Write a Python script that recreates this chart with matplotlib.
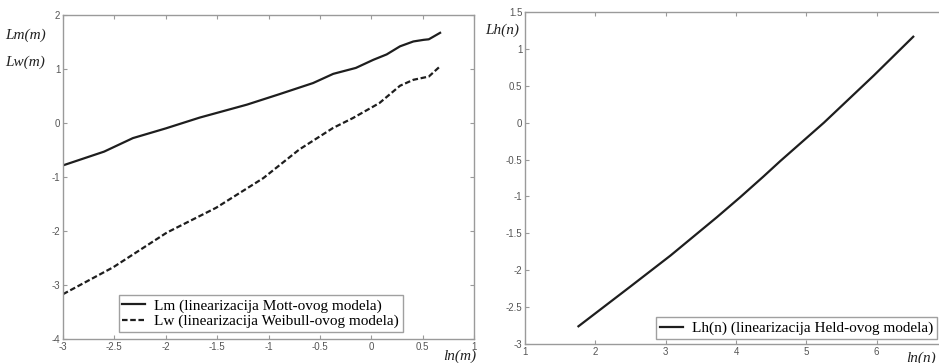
import matplotlib
matplotlib.use("Agg")
import matplotlib.pyplot as plt
import numpy as np

# Left panel data
lnm_m = [-3.0, -2.6, -2.32, -2.0, -1.67, -1.21, -0.9, -0.566, -0.37, -0.15, 0.02, 0.15, 0.28, 0.41, 0.51, 0.56, 0.67]
Lm = [-0.785, -0.53, -0.28, -0.1, 0.1, 0.34, 0.53, 0.74, 0.91, 1.02, 1.17, 1.27, 1.42, 1.51, 1.54, 1.55, 1.67]
lnm_w = [-3.0, -2.51, -1.99, -1.51, -1.05, -0.70, -0.37, -0.18, 0.08, 0.28, 0.41, 0.51, 0.56, 0.67]
Lw = [-3.17, -2.67, -2.03, -1.57, -1.02, -0.49, -0.09, 0.09, 0.37, 0.69, 0.80, 0.84, 0.86, 1.05]

# Right panel data
lnn = [1.76, 2.5, 3.07, 3.73, 4.06, 4.39, 4.63, 5.25, 5.96, 6.52]
Lh = [-2.76, -2.22, -1.80, -1.28, -1.01, -0.73, -0.52, 0.0, 0.64, 1.165]

left_xticks = [-3, -2.5, -2, -1.5, -1, -0.5, 0, 0.5, 1]
left_yticks = [-4, -3, -2, -1, 0, 1, 2]
right_xticks = [1, 2, 3, 4, 5, 6, 7]
right_yticks = [-3, -2.5, -2, -1.5, -1, -0.5, 0, 0.5, 1, 1.5]

W, H = 939, 363
fig = plt.figure(figsize=(W / 100, H / 100), dpi=100)

spine_col = "#9a9a9a"
tick_col = "#555555"
line_col = "#1e1e1e"
lab_font = dict(family="Liberation Serif", style="italic", size=11)


def style(ax):
    for s in ax.spines.values():
        s.set_color(spine_col)
        s.set_linewidth(1.0)
    ax.tick_params(direction="in", length=3, width=0.8, colors=spine_col,
                   labelcolor=tick_col, labelsize=7, top=True, right=True, pad=2)
    for lab in ax.get_xticklabels() + ax.get_yticklabels():
        lab.set_fontfamily("Liberation Sans")


ax1 = fig.add_axes([63 / W, 1 - 339 / H, (474 - 63) / W, (339 - 15) / H])
ax1.plot(lnm_m, Lm, color=line_col, lw=1.6, label="Lm (linearizacija Mott-ovog modela)")
ax1.plot(lnm_w, Lw, color=line_col, lw=1.6, ls=(0, (2.5, 1.2)), label="Lw (linearizacija Weibull-ovog modela)")
ax1.set_xlim(-3, 1)
ax1.set_ylim(-4, 2)
ax1.set_xticks(left_xticks)
ax1.set_xticklabels([f"{v:g}" for v in left_xticks])
ax1.set_yticks(left_yticks)
ax1.set_yticklabels([f"{v:g}" for v in left_yticks])
style(ax1)
leg1 = ax1.legend(loc="lower right", bbox_to_anchor=(403 / W, 1 - 332 / H), bbox_transform=fig.transFigure,
                  prop=dict(family="Liberation Serif", size=11), frameon=True, fancybox=False,
                  handlelength=1.5, borderpad=0.25, labelspacing=0.1, borderaxespad=0, handletextpad=0.6)
leg1.get_frame().set_edgecolor("#888888")
leg1.get_frame().set_linewidth(1.0)

fig.text(5 / W, 1 - 35 / H, "Lm(m)", ha="left", va="center", **lab_font, color="#222222")
fig.text(5 / W, 1 - 62 / H, "Lw(m)", ha="left", va="center", **lab_font, color="#222222")
fig.text(443 / W, 1 - 356 / H, "ln(m)", ha="left", va="center", **lab_font, color="#222222")

ax2 = fig.add_axes([525 / W, 1 - 344 / H, (947 - 525) / W, (344 - 12) / H])
ax2.plot(lnn, Lh, color=line_col, lw=1.6, label="Lh(n) (linearizacija Held-ovog modela)")
ax2.set_xlim(1, 7)
ax2.set_ylim(-3, 1.5)
ax2.set_xticks(right_xticks)
ax2.set_xticklabels([f"{v:g}" for v in right_xticks])
ax2.set_yticks(right_yticks)
ax2.set_yticklabels([f"{v:g}" for v in right_yticks])
style(ax2)
leg2 = ax2.legend(loc="lower right", bbox_to_anchor=(937 / W, 1 - 339 / H), bbox_transform=fig.transFigure,
                  prop=dict(family="Liberation Serif", size=11), frameon=True, fancybox=False,
                  handlelength=1.5, borderpad=0.25, borderaxespad=0, handletextpad=0.6)
leg2.get_frame().set_edgecolor("#888888")
leg2.get_frame().set_linewidth(1.0)

fig.text(485 / W, 1 - 30 / H, "Lh(n)", ha="left", va="center", **lab_font, color="#222222")
fig.text(906 / W, 1 - 358 / H, "ln(n)", ha="left", va="center", **lab_font, color="#222222")

fig.savefig("out.png", dpi=100)
